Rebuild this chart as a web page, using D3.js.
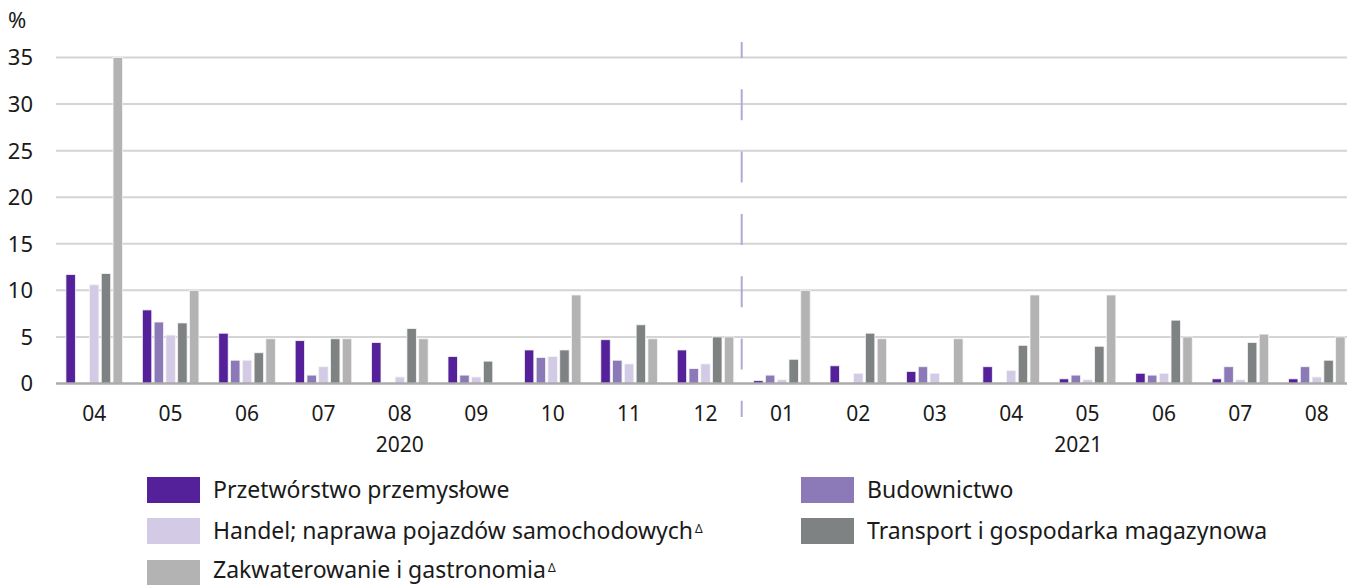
<!DOCTYPE html>
<html>
<head>
<meta charset="utf-8">
<script src="https://cdn.jsdelivr.net/npm/d3@7"></script>
<style>
  body { margin: 0; background: #fff; }
  svg text { font-family: "Noto Sans", sans-serif; fill: #1a1a1a; }
</style>
</head>
<body>
<svg id="chart" width="1347" height="585"></svg>
<script>
const months = ["04", "05", "06", "07", "08", "09", "10", "11", "12", "01", "02", "03", "04", "05", "06", "07", "08"]
const years = [{label: "2020", from: 0, to: 8}, {label: "2021", from: 9, to: 16}]
const seriesNames = [
    "Przetwórstwo przemysłowe",
    "Budownictwo",
    "Handel; naprawa pojazdów samochodowych",
    "Transport i gospodarka magazynowa",
    "Zakwaterowanie i gastronomia"
]
const seriesMarks = ["", "", "\u0394", "", "\u0394"]
const colors = ["#54219a", "#8c79b8", "#d3cae5", "#7e8282", "#b3b3b3"]

const przetworstwo = [11.7, 7.9, 5.4, 4.6, 4.4, 2.9, 3.6, 4.7, 3.6, 0.3, 1.9, 1.3, 1.8, 0.5, 1.1, 0.5, 0.5]
const budownictwo = [0, 6.6, 2.5, 0.9, 0, 0.9, 2.8, 2.5, 1.6, 0.9, 0, 1.8, 0, 0.9, 0.9, 1.8, 1.8]
const handel = [10.6, 5.2, 2.5, 1.8, 0.7, 0.7, 2.9, 2.1, 2.1, 0.4, 1.1, 1.1, 1.4, 0.4, 1.1, 0.4, 0.7]
const transport = [11.8, 6.5, 3.3, 4.8, 5.9, 2.4, 3.6, 6.3, 5.0, 2.6, 5.4, 0, 4.1, 4.0, 6.8, 4.4, 2.5]
const zakwaterowanie = [35.0, 10.0, 4.8, 4.8, 4.8, 0, 9.5, 4.8, 5.0, 10.0, 4.8, 4.8, 9.5, 9.5, 5.0, 5.3, 5.0]
const yTicks = [0, 5, 10, 15, 20, 25, 30, 35]

const allSeries = [przetworstwo, budownictwo, handel, transport, zakwaterowanie]

const svg = d3.select("#chart")
const x0 = d3.scaleBand().domain(d3.range(months.length)).range([56, 1355])
const bw = x0.bandwidth()
const x1 = d3.scaleBand().domain(d3.range(seriesNames.length))
    .range([bw * 0.13, bw * 0.87]).paddingInner(0.2)
const y = d3.scaleLinear().domain([0, 35]).range([383.5, 57.5])

// gridlines
svg.append("g")
    .selectAll("line")
    .data(yTicks.filter(t => t > 0))
    .enter()
    .append("line")
    .attr("x1", 56).attr("x2", 1347)
    .attr("y1", d => y(d)).attr("y2", d => y(d))
    .attr("stroke", "#d4d4d4")
    .attr("stroke-width", 2)

// y labels
svg.append("g")
    .selectAll("text")
    .data(yTicks)
    .enter()
    .append("text")
    .attr("x", 33)
    .attr("y", d => y(d))
    .attr("dy", "0.36em")
    .attr("text-anchor", "end")
    .style("font-size", "22px")
    .text(d => d)

svg.append("text")
    .attr("x", 8).attr("y", 28)
    .style("font-size", "22px")
    .text("%")

// bars
const groups = svg.append("g")
    .selectAll("g")
    .data(months)
    .enter()
    .append("g")
    .attr("transform", (d, i) => "translate(" + x0(i) + ",0)")

groups.selectAll("rect")
    .data((d, i) => allSeries.map((s, k) => ({k: k, v: s[i]})))
    .enter()
    .filter(d => d.v > 0)
    .append("rect")
    .attr("x", d => x1(d.k))
    .attr("width", x1.bandwidth())
    .attr("y", d => y(d.v))
    .attr("height", d => y(0) - y(d.v))
    .attr("fill", d => colors[d.k])
    .attr("stroke", "#f4f4f4")
    .attr("stroke-width", 0.8)

// baseline
svg.append("line")
    .attr("x1", 56).attr("x2", 1347)
    .attr("y1", y(0)).attr("y2", y(0))
    .attr("stroke", "#ababab")
    .attr("stroke-width", 2.5)

// month labels
svg.append("g")
    .selectAll("text")
    .data(months)
    .enter()
    .append("text")
    .attr("x", (d, i) => x0(i) + bw / 2)
    .attr("y", 413)
    .attr("dy", "0.36em")
    .attr("text-anchor", "middle")
    .style("font-size", "21px")
    .text(d => d)

// year labels
svg.append("g")
    .selectAll("text")
    .data(years)
    .enter()
    .append("text")
    .attr("x", d => d.label === "2020"
        ? (x0(d.from) + x0(d.to) + bw) / 2
        : (x0(d.from) + x0(d.to) + bw) / 2 + 29)
    .attr("y", 444)
    .attr("dy", "0.36em")
    .attr("text-anchor", "middle")
    .style("font-size", "21px")
    .text(d => d.label)

// year separator
const sepX = x0(9) - 2
svg.append("line")
    .attr("x1", sepX).attr("x2", sepX)
    .attr("y1", 42).attr("y2", 417)
    .attr("stroke", "#b4a7d6")
    .attr("stroke-width", 2)
    .attr("stroke-dasharray", "31,31.3")
    .attr("stroke-dashoffset", 15)

// legend
const legendPos = [
    [147, 477], [801, 477],
    [147, 518], [801, 518],
    [147, 560]
]
const legend = svg.append("g")
    .selectAll("g")
    .data(seriesNames)
    .enter()
    .append("g")
    .attr("transform", (d, i) => "translate(" + legendPos[i][0] + "," + legendPos[i][1] + ")")

legend.append("rect")
    .attr("width", 53).attr("height", 26)
    .attr("fill", (d, i) => colors[i])

const ltext = legend.append("text")
    .attr("x", 66).attr("y", (d, i) => i === 4 ? 10 : 13)
    .attr("dy", "0.36em")
    .style("font-size", "23px")

ltext.append("tspan").text(d => d)
ltext.append("tspan")
    .attr("dx", 2)
    .attr("dy", "-0.5em")
    .style("font-size", "12px")
    .text((d, i) => seriesMarks[i])
</script>
</body>
</html>
